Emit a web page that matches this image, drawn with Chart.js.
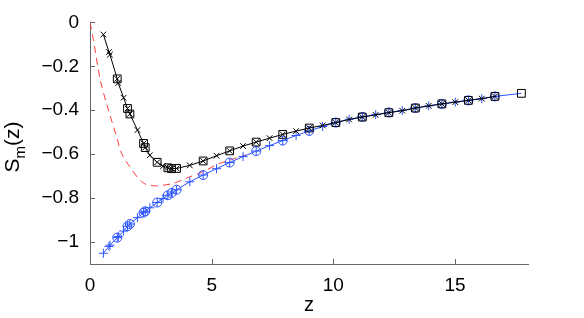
<!DOCTYPE html>
<html>
<head>
<meta charset="utf-8">
<script src="https://cdn.jsdelivr.net/npm/chart.js@4"></script>
<style>
  html, body { margin: 0; padding: 0; background: #fff; }
  #wrap { width: 584px; height: 318px; }
</style>
</head>
<body>
<div id="wrap"><canvas id="smChart" width="584" height="318"></canvas></div>
<script>
// z values shared by the black and blue curves
const zGrid = [0.55, 0.78, 0.82, 1.12, 1.16, 1.38, 1.54, 1.64, 1.95, 2.2, 2.27, 2.46, 2.76, 3.0, 3.2, 3.35,
    3.56, 4.1, 4.65, 5.2, 5.74, 6.29, 6.83, 7.38, 7.92, 8.47, 9.01, 9.56, 10.1, 10.65, 11.19, 11.74,
    12.28, 12.83, 13.37, 13.92, 14.46, 15.01, 15.55, 16.1, 16.64, 17.73];

const sBlack = [-0.055, -0.135, -0.147, -0.257, -0.276, -0.343, -0.392, -0.417, -0.49, -0.551, -0.57, -0.605, -0.637, -0.655, -0.662, -0.666,
    -0.665, -0.651, -0.631, -0.607, -0.585, -0.563, -0.545, -0.527, -0.51, -0.495, -0.481, -0.469, -0.456, -0.442, -0.431, -0.421,
    -0.411, -0.402, -0.39, -0.38, -0.371, -0.363, -0.355, -0.347, -0.337];

const sBlue = [-1.051, -1.02, -1.014, -0.98, -0.975, -0.95, -0.928, -0.918, -0.889, -0.866, -0.86, -0.844, -0.82, -0.802, -0.787, -0.777,
    -0.762, -0.726, -0.695, -0.666, -0.638, -0.611, -0.586, -0.561, -0.538, -0.515, -0.494, -0.474, -0.456, -0.441, -0.43, -0.42,
    -0.41, -0.401, -0.39, -0.38, -0.371, -0.363, -0.355, -0.347, -0.337, -0.323];

// indices of zGrid that also carry squares (black) and circles (blue)
const markIdx = [3, 6, 7, 9, 10, 12, 14, 15, 16, 18, 20, 22, 24, 26, 28, 30, 32, 34, 36, 38, 40];

// red dashed curve
const zRed = [0, 0.14, 0.41, 0.68, 1.09, 1.3, 1.64, 2.05, 2.32, 2.73, 3.41, 4.1, 4.78, 5.2, 5.8, 6.4];
const sRed = [0, -0.08, -0.256, -0.37, -0.52, -0.597, -0.658, -0.718, -0.738, -0.744, -0.733, -0.703, -0.673, -0.648, -0.625, -0.603];

const xTicksStep = 5;
const yTicksStep = 0.2;

const blue = 'rgb(45, 85, 255)';
const red = 'rgb(255, 60, 60)';
const axisGray = '#666';

const pts = (xs, ys) => xs.slice(0, ys.length).map((x, i) => ({x: x, y: ys[i]}));
const blackPts = pts(zGrid, sBlack);
const bluePts = pts(zGrid, sBlue);
const squarePts = markIdx.map(i => ({x: zGrid[i], y: sBlack[i]})).concat([{x: zGrid[zGrid.length - 1], y: sBlue[sBlue.length - 1]}]);
const circlePts = markIdx.map(i => ({x: zGrid[i], y: sBlue[i]}));

const fmt = v => {
    if (Math.abs(v) < 1e-9) return '0';
    const s = parseFloat(Math.abs(v).toFixed(1)).toString();
    return (v < 0 ? '\u2212' : '') + s;
};

// inward tick marks plus the axis titles
const axisDecor = {
    id: 'axisDecor',
    afterDraw(chart) {
        const {ctx, chartArea: a, scales: {x, y}} = chart;
        ctx.save();
        ctx.strokeStyle = axisGray;
        ctx.lineWidth = 1;
        ctx.beginPath();
        x.ticks.forEach(t => {
            const px = Math.round(x.getPixelForValue(t.value)) + 0.5;
            ctx.moveTo(px, a.bottom);
            ctx.lineTo(px, a.bottom - 5);
        });
        y.ticks.forEach(t => {
            const py = Math.round(y.getPixelForValue(t.value)) + 0.5;
            ctx.moveTo(a.left, py);
            ctx.lineTo(a.left + 5, py);
        });
        ctx.stroke();

        ctx.fillStyle = '#000';
        ctx.font = '20px "Liberation Sans", Arial, sans-serif';
        ctx.textAlign = 'center';
        ctx.textBaseline = 'alphabetic';
        ctx.fillText('z', (a.left + a.right) / 2, 311);

        // S_m(z), rotated
        ctx.translate(19, 147);
        ctx.rotate(-Math.PI / 2);
        ctx.textAlign = 'left';
        const big = '21px "Liberation Sans", Arial, sans-serif';
        const small = '15px "Liberation Sans", Arial, sans-serif';
        ctx.font = big;
        const wS = ctx.measureText('S').width;
        const wZ = ctx.measureText('(z)').width;
        ctx.font = small;
        const wM = ctx.measureText('m').width;
        let cx = -(wS + wM + wZ) / 2;
        ctx.font = big;
        ctx.fillText('S', cx, 0);
        cx += wS;
        ctx.font = small;
        ctx.fillText('m', cx, 6);
        cx += wM;
        ctx.font = big;
        ctx.fillText('(z)', cx, 0);
        ctx.restore();
    }
};

const ctx = document.getElementById('smChart').getContext('2d');
new Chart(ctx, {
    type: 'scatter',
    data: {
        datasets: [
            {
                label: 'black squares',
                data: squarePts,
                showLine: false,
                pointStyle: 'rect',
                pointRadius: 5.5,
                borderColor: '#000',
                backgroundColor: 'rgba(0,0,0,0)',
                borderWidth: 1
            },
            {
                label: 'black',
                data: blackPts,
                showLine: true,
                borderColor: '#000',
                borderWidth: 1,
                pointStyle: 'crossRot',
                pointRadius: 4,
                pointBorderColor: '#000',
                pointBorderWidth: 1,
                backgroundColor: 'rgba(0,0,0,0)'
            },
            {
                label: 'blue circles',
                data: circlePts,
                showLine: false,
                pointStyle: 'circle',
                pointRadius: 4.5,
                borderColor: blue,
                backgroundColor: 'rgba(0,0,0,0)',
                borderWidth: 1
            },
            {
                label: 'blue',
                data: bluePts,
                showLine: true,
                borderColor: blue,
                borderWidth: 1,
                pointStyle: 'cross',
                pointRadius: c => c.dataIndex === bluePts.length - 1 ? 0 : 4.5,
                pointBorderColor: blue,
                pointBorderWidth: 1,
                backgroundColor: 'rgba(0,0,0,0)'
            },
            {
                label: 'red',
                data: pts(zRed, sRed),
                showLine: true,
                borderColor: red,
                borderWidth: 1,
                borderDash: [7, 5],
                pointRadius: 0,
                tension: 0.3
            }
        ]
    },
    options: {
        responsive: false,
        animation: false,
        events: [],
        layout: {padding: {top: 22, right: 56, left: 0, bottom: 0}},
        plugins: {legend: {display: false}, tooltip: {enabled: false}},
        scales: {
            x: {
                type: 'linear',
                min: 0,
                max: 18,
                afterFit: s => { s.height = 54; },
                border: {display: true, color: axisGray, width: 1},
                grid: {display: true, drawOnChartArea: false, drawTicks: false},
                ticks: {
                    stepSize: xTicksStep,
                    includeBounds: false,
                    padding: 10,
                    color: '#000',
                    font: {family: '"Liberation Sans", Arial, sans-serif', size: 19},
                    callback: v => fmt(v)
                }
            },
            y: {
                type: 'linear',
                min: -1.1,
                max: 0,
                afterFit: s => { s.width = 90; },
                border: {display: true, color: axisGray, width: 1},
                grid: {display: true, drawOnChartArea: false, drawTicks: false},
                ticks: {
                    stepSize: yTicksStep,
                    includeBounds: false,
                    padding: 11,
                    color: '#000',
                    font: {family: '"Liberation Sans", Arial, sans-serif', size: 19},
                    callback: v => fmt(v)
                }
            }
        }
    },
    plugins: [axisDecor]
});
</script>
</body>
</html>
